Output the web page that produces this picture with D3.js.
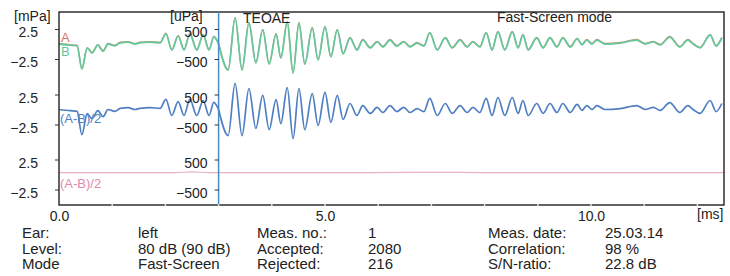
<!DOCTYPE html>
<html>
<head>
<meta charset="utf-8">
<script src="https://cdn.jsdelivr.net/npm/d3@7"></script>
<style>
  body { margin: 0; background: #fff; }
  text { font-family: "Liberation Sans", Arial, sans-serif; fill: #222; }
</style>
</head>
<body>
<div id="chart"></div>
<script>
// early part of the response, 0 - 3 ms, in mPa
const timeEarly = [0.00, 0.21, 0.34, 0.43, 0.53, 0.62, 0.73, 0.83, 0.92, 1.05, 1.15, 1.30, 1.43, 1.52, 1.71, 1.90,
  2.01, 2.12, 2.24, 2.35, 2.46, 2.59, 2.71, 2.82, 2.91, 3.00];
const waveEarly = [0, -0.2, -0.3, -4.2, -0.7, -1.5, -0.2, -1.2, 0, -0.3, 0.2, 0.3, 0, 0.2, 0.3, 0.2,
  1.7, -1.0, 1.3, -1.0, 1.7, -1.0, 1.5, -1.0, 1.2, 0];

// late part, 3 - 12.5 ms, in uPa
const timeLate = [3.00, 3.18, 3.31, 3.44, 3.57, 3.70, 3.83, 3.95, 4.08, 4.17, 4.29, 4.40, 4.51, 4.62, 4.76, 4.87,
  5.00, 5.11, 5.23, 5.34, 5.47, 5.60, 5.71, 5.85, 5.98, 6.09, 6.22, 6.35, 6.48, 6.60, 6.73, 6.86,
  6.97, 7.11, 7.26, 7.39, 7.54, 7.67, 7.78, 7.91, 8.03, 8.14, 8.25, 8.38, 8.52, 8.63, 8.72, 8.82,
  8.98, 9.10, 9.23, 9.36, 9.47, 9.61, 9.74, 9.83, 9.92, 10.02, 10.11, 10.26, 10.55, 10.86, 11.02, 11.17,
  11.30, 11.48, 11.67, 11.82, 11.92, 12.05, 12.24, 12.35, 12.46];
const waveLate = [0, -870, 870, -870, 700, -630, 470, -670, 330, -470, 730, -970, 700, -670, 530, -530,
  570, -430, 470, -330, 200, -200, 130, -130, 70, -100, 130, -70, 70, -100, 30, -70,
  370, -200, 200, -130, 130, -100, 70, -100, 370, -200, 400, -200, 400, -130, 300, -200,
  200, -130, 200, -100, 200, -100, 170, -30, 130, 0, 130, 0, 30, 130, 0, 70,
  -30, 230, -100, 130, 0, -130, 300, -70, 200];

// (A-B)/2 residual noise
const noiseTimeEarly = [0, 1.0, 2.2, 2.5, 2.8, 3.0];
const noiseEarly = [0.3, 0.3, 0.3, 0.45, 0.3, 0.3];
const noiseTimeLate = [3.0, 5.0, 7.0, 9.0, 11.0, 12.5];
const noiseLate = [60, 60, 70, 60, 60, 60];

const yTicksEarly = [-2.5, 2.5];
const yTicksLate = [-500, 500];
const xTicks = [0, 5, 10];

const infoCols = [
  ['Ear:', 'Level:', 'Mode'],
  ['left', '80 dB (90 dB)', 'Fast-Screen'],
  ['Meas. no.:', 'Accepted:', 'Rejected:'],
  ['1', '2080', '216'],
  ['Meas. date:', 'Correlation:', 'S/N-ratio:'],
  ['25.03.14', '98 %', '22.8 dB']
];
const infoX = [22, 138, 257, 368, 488, 605];

const w = 730, h = 276;
const plotLeft = 59, plotRight = 724, plotTop = 12, plotBottom = 205;
const split = 3.0;
const centers = [44, 109.5, 174.5];
const half = 15;

const svg = d3.select('#chart').append('svg').attr('width', w).attr('height', h);

const x = d3.scaleLinear().domain([0, 12.5]).range([plotLeft, plotRight]);

const early = timeEarly.map((t, i) => ({ t, v: waveEarly[i] }));
const late = timeLate.map((t, i) => ({ t, v: waveLate[i] }));
const nEarly = noiseTimeEarly.map((t, i) => ({ t, v: noiseEarly[i] }));
const nLate = noiseTimeLate.map((t, i) => ({ t, v: noiseLate[i] }));

const panels = centers.map(c => ({
  yE: d3.scaleLinear().domain([-2.5, 2.5]).range([c + half, c - half]),
  yL: d3.scaleLinear().domain([-500, 500]).range([c + half, c - half])
}));

const drawTrace = (p, dataE, dataL, color, width, dy = 0) => {
  const lineE = d3.line().x(d => x(d.t)).y(d => p.yE(d.v) + dy).curve(d3.curveMonotoneX);
  const lineL = d3.line().x(d => x(d.t)).y(d => p.yL(d.v) + dy).curve(d3.curveMonotoneX);
  svg.append('path').datum(dataE).attr('d', lineE).attr('fill', 'none')
    .attr('stroke', color).attr('stroke-width', width).attr('stroke-linejoin', 'round');
  svg.append('path').datum(dataL).attr('d', lineL).attr('fill', 'none')
    .attr('stroke', color).attr('stroke-width', width).attr('stroke-linejoin', 'round');
}

// A (red) just under B (green)
drawTrace(panels[0], early, late, '#d98a78', 1.3, -0.6);
drawTrace(panels[0], early, late, '#66c89a', 1.8);
// average
drawTrace(panels[1], early, late, '#4f7fc2', 1.7);
// (A-B)/2
drawTrace(panels[2], nEarly, nLate, '#eab0c6', 1.2);

// frame
svg.append('rect')
  .attr('x', plotLeft).attr('y', plotTop)
  .attr('width', plotRight - plotLeft).attr('height', plotBottom - plotTop)
  .attr('fill', 'none').attr('stroke', '#222').attr('stroke-width', 1.4);

// split line
svg.append('line')
  .attr('x1', x(split)).attr('x2', x(split))
  .attr('y1', plotTop).attr('y2', plotBottom)
  .attr('stroke', '#4a8ac6').attr('stroke-width', 1.5);

// small ms ticks on bottom edge
svg.append('g').selectAll('line')
  .data(d3.range(1, 13))
  .join('line')
  .attr('x1', d => x(d)).attr('x2', d => x(d))
  .attr('y1', plotBottom - 1).attr('y2', plotBottom + 1)
  .attr('stroke', '#ddd').attr('stroke-width', 1.5);

/**
 * AXES
 */
panels.forEach(p => {
  svg.append('g')
    .attr('class', 'y-left')
    .attr('transform', `translate(${plotLeft},0)`)
    .call(d3.axisLeft(p.yE).tickValues(yTicksEarly).tickSize(4).tickPadding(17).tickFormat(d3.format('.1f')));
  svg.append('g')
    .attr('class', 'y-right')
    .attr('transform', `translate(${x(split)},0)`)
    .call(d3.axisLeft(p.yL).tickValues(yTicksLate).tickSize(4).tickPadding(7).tickFormat(d3.format('d')));
});

svg.append('g')
  .attr('class', 'x-axis')
  .attr('transform', `translate(0,${plotBottom})`)
  .call(d3.axisBottom(x).tickValues(xTicks).tickSize(0).tickPadding(6).tickFormat(d3.format('.1f')));

svg.selectAll('.domain').remove();
svg.selectAll('.tick line').attr('stroke', '#333');
svg.selectAll('.tick text').attr('font-size', 14).attr('fill', '#222')
  .attr('font-family', '"Liberation Sans", Arial, sans-serif');
svg.selectAll('.y-left .tick text, .y-right .tick text').attr('dy', '0.55em');

// unit labels
svg.append('text').attr('x', 14).attr('y', 21).attr('font-size', 14).text('[mPa]');
svg.append('text').attr('x', 170).attr('y', 21).attr('font-size', 14).text('[uPa]');
svg.append('text').attr('x', 697).attr('y', 219).attr('font-size', 14).text('[ms]');
svg.append('text').attr('x', 243).attr('y', 23).attr('font-size', 14).text('TEOAE');
svg.append('text').attr('x', 497).attr('y', 22).attr('font-size', 14).text('Fast-Screen mode');

// trace labels
svg.append('text').attr('x', 61).attr('y', 42).attr('font-size', 13).style('fill', '#d9735f').text('A');
svg.append('text').attr('x', 61).attr('y', 56).attr('font-size', 13).style('fill', '#62c596').text('B');
svg.append('text').attr('x', 60).attr('y', 123).attr('font-size', 13).style('fill', '#4f7fc2').text('(A-B)/2');
svg.append('text').attr('x', 60).attr('y', 188).attr('font-size', 13).style('fill', '#e08aae').text('(A-B)/2');

// measurement info
infoCols.forEach((col, i) => {
  svg.append('g').selectAll('text')
    .data(col)
    .join('text')
    .attr('x', infoX[i])
    .attr('y', (d, j) => 238 + j * 15.5)
    .attr('font-size', 15)
    .text(d => d);
});
</script>
</body>
</html>
